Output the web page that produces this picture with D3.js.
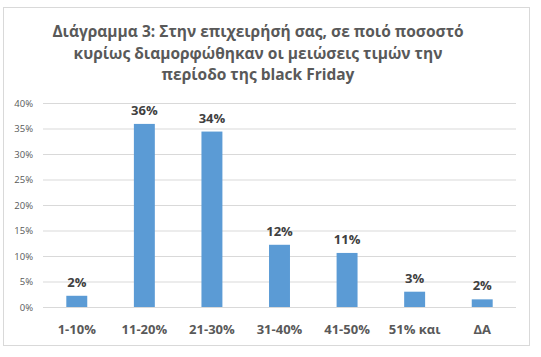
<!DOCTYPE html>
<html><head><meta charset="utf-8">
<script src="https://cdn.jsdelivr.net/npm/d3@7"></script>
<style>body{margin:0;background:#fff}svg{display:block}</style>
</head><body><svg id="c" width="541" height="357"></svg>
<script>
const categories = ["1-10%","11-20%","21-30%","31-40%","41-50%","51% και","ΔΑ"];
const values = [2.2, 35.9, 34.4, 12.2, 10.6, 3.0, 1.5];
const valueLabels = ["2%","36%","34%","12%","11%","3%","2%"];
const yTicks = [0,5,10,15,20,25,30,35,40];
const titleLines = ["Διάγραμμα 3: Στην επιχειρήσή σας, σε ποιό ποσοστό","κυρίως διαμορφώθηκαν οι μειώσεις τιμών την","περίοδο της black Friday"];

const svg = d3.select("#c");
svg.append("rect").attr("x",3.5).attr("y",7.5).attr("width",526).attr("height",338)
  .attr("fill","#fff").attr("stroke","#d9d9d9");

const x = d3.scaleBand().domain(categories).range([43,516]).paddingInner(0.69).paddingOuter(0.345);
const y = d3.scaleLinear().domain([0,40]).range([307,103]);

svg.append("g").selectAll("line").data(yTicks).join("line")
  .attr("x1",43).attr("x2",516).attr("y1",d=>y(d)+0.5).attr("y2",d=>y(d)+0.5)
  .attr("stroke","#d9d9d9");
svg.append("g").selectAll("text").data(yTicks).join("text")
  .attr("x",33).attr("y",d=>y(d)+3.5).attr("text-anchor","end")
  .attr("font-family","Open Sans, sans-serif").attr("font-size",9.5).attr("fill","#595959")
  .text(d=>d+"%");

svg.append("g").selectAll("rect").data(values).join("rect")
  .attr("x",(d,i)=>x(categories[i])).attr("width",x.bandwidth())
  .attr("y",d=>y(d)).attr("height",d=>y(0)-y(d)).attr("fill","#5B9BD5");

svg.append("g").selectAll("text").data(values).join("text")
  .attr("x",(d,i)=>x(categories[i])+x.bandwidth()/2).attr("y",d=>y(d)-9)
  .attr("text-anchor","middle").attr("font-family","Open Sans, sans-serif")
  .attr("font-size",13).attr("font-weight","bold").attr("fill","#404040")
  .text((d,i)=>valueLabels[i]);

svg.append("g").selectAll("text").data(categories).join("text")
  .attr("x",d=>x(d)+x.bandwidth()/2).attr("y",334)
  .attr("text-anchor","middle").attr("font-family","Open Sans, sans-serif")
  .attr("font-size",13).attr("font-weight","bold").attr("fill","#595959")
  .text(d=>d);

svg.append("g").selectAll("text").data(titleLines).join("text")
  .attr("x",258).attr("y",(d,i)=>37+i*21.5).attr("text-anchor","middle")
  .attr("font-family","Open Sans, sans-serif").attr("font-size",15.5).attr("font-weight","bold")
  .attr("fill","#595959").text(d=>d);
</script></body></html>
